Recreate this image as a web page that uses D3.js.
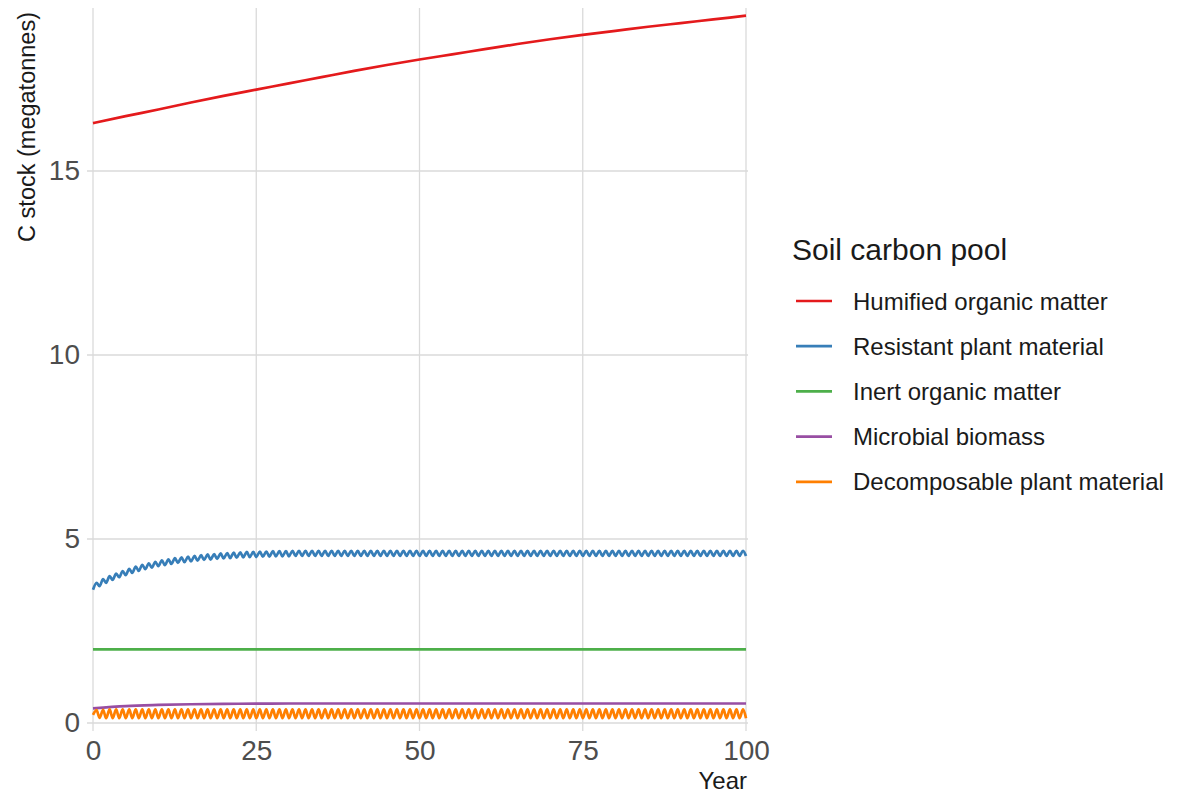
<!DOCTYPE html>
<html>
<head>
<meta charset="utf-8">
<script src="https://cdn.jsdelivr.net/npm/d3@7/dist/d3.min.js"></script>
<style>
  body { margin: 0; background: #fff; }
  svg { display: block; font-family: "Liberation Sans", Arial, sans-serif; }
</style>
</head>
<body>
<svg width="1179" height="793"></svg>
<script>
// pools, in legend order
const pools = ['Humified organic matter', 'Resistant plant material', 'Inert organic matter',
    'Microbial biomass', 'Decomposable plant material'];
const poolColors = ['#E41A1C', '#377EB8', '#4DAF4A', '#984EA3', '#FF7F00'];

const xTicks = [0, 25, 50, 75, 100];
const yTicks = [0, 5, 10, 15];

// smooth pools, read every 5 years
const years5 = [0, 5, 10, 15, 20, 25, 30, 35, 40, 45, 50, 55, 60, 65, 70, 75, 80, 85, 90, 95, 100];
const humified = [16.30, 16.49, 16.67, 16.86, 17.04, 17.21, 17.38, 17.55, 17.72, 17.88, 18.03,
    18.17, 18.31, 18.45, 18.58, 18.70, 18.81, 18.92, 19.02, 19.12, 19.22];
const inert = [2.0, 2.0, 2.0, 2.0, 2.0, 2.0, 2.0, 2.0, 2.0, 2.0, 2.0,
    2.0, 2.0, 2.0, 2.0, 2.0, 2.0, 2.0, 2.0, 2.0, 2.0];
const microbial = [0.40, 0.46, 0.49, 0.51, 0.52, 0.525, 0.53, 0.53, 0.53, 0.53, 0.53,
    0.53, 0.53, 0.53, 0.53, 0.53, 0.53, 0.53, 0.53, 0.53, 0.53];

// oscillating pools: yearly trough (start of year) and peak (mid year)
const peakAt = 0.55;
const resistantLow = [
    3.62, 3.72, 3.81, 3.89, 3.96, 4.02, 4.08, 4.13, 4.18, 4.22,
    4.26, 4.29, 4.32, 4.35, 4.37, 4.39, 4.41, 4.43, 4.44, 4.46,
    4.47, 4.48, 4.49, 4.50, 4.51, 4.51, 4.52, 4.52, 4.53, 4.53,
    4.53, 4.54, 4.54, 4.54, 4.54, 4.54, 4.54, 4.54, 4.54, 4.54,
    4.54, 4.54, 4.54, 4.54, 4.54, 4.54, 4.54, 4.54, 4.54, 4.54,
    4.54, 4.54, 4.54, 4.54, 4.54, 4.54, 4.54, 4.54, 4.54, 4.54,
    4.54, 4.54, 4.54, 4.54, 4.54, 4.54, 4.54, 4.54, 4.54, 4.54,
    4.54, 4.54, 4.54, 4.54, 4.54, 4.54, 4.54, 4.54, 4.54, 4.54,
    4.54, 4.54, 4.54, 4.54, 4.54, 4.54, 4.54, 4.54, 4.54, 4.54,
    4.54, 4.54, 4.54, 4.54, 4.54, 4.54, 4.54, 4.54, 4.54, 4.54,
    4.54];
const resistantHigh = [
    3.81, 3.91, 3.99, 4.06, 4.13, 4.19, 4.25, 4.30, 4.34, 4.38,
    4.42, 4.45, 4.48, 4.50, 4.52, 4.54, 4.56, 4.58, 4.59, 4.61,
    4.62, 4.63, 4.64, 4.65, 4.65, 4.66, 4.66, 4.67, 4.67, 4.67,
    4.68, 4.68, 4.68, 4.68, 4.68, 4.68, 4.68, 4.68, 4.68, 4.68,
    4.68, 4.68, 4.68, 4.68, 4.68, 4.68, 4.68, 4.68, 4.68, 4.68,
    4.68, 4.68, 4.68, 4.68, 4.68, 4.68, 4.68, 4.68, 4.68, 4.68,
    4.68, 4.68, 4.68, 4.68, 4.68, 4.68, 4.68, 4.68, 4.68, 4.68,
    4.68, 4.68, 4.68, 4.68, 4.68, 4.68, 4.68, 4.68, 4.68, 4.68,
    4.68, 4.68, 4.68, 4.68, 4.68, 4.68, 4.68, 4.68, 4.68, 4.68,
    4.68, 4.68, 4.68, 4.68, 4.68, 4.68, 4.68, 4.68, 4.68, 4.68];
const decompLow = [
    0.22, 0.14, 0.13, 0.13, 0.13, 0.13, 0.13, 0.13, 0.13, 0.13,
    0.13, 0.13, 0.13, 0.13, 0.13, 0.13, 0.13, 0.13, 0.13, 0.13,
    0.13, 0.13, 0.13, 0.13, 0.13, 0.13, 0.13, 0.13, 0.13, 0.13,
    0.13, 0.13, 0.13, 0.13, 0.13, 0.13, 0.13, 0.13, 0.13, 0.13,
    0.13, 0.13, 0.13, 0.13, 0.13, 0.13, 0.13, 0.13, 0.13, 0.13,
    0.13, 0.13, 0.13, 0.13, 0.13, 0.13, 0.13, 0.13, 0.13, 0.13,
    0.13, 0.13, 0.13, 0.13, 0.13, 0.13, 0.13, 0.13, 0.13, 0.13,
    0.13, 0.13, 0.13, 0.13, 0.13, 0.13, 0.13, 0.13, 0.13, 0.13,
    0.13, 0.13, 0.13, 0.13, 0.13, 0.13, 0.13, 0.13, 0.13, 0.13,
    0.13, 0.13, 0.13, 0.13, 0.13, 0.13, 0.13, 0.13, 0.13, 0.13,
    0.13];
const decompHigh = [
    0.35, 0.36, 0.37, 0.37, 0.37, 0.37, 0.37, 0.37, 0.37, 0.37,
    0.37, 0.37, 0.37, 0.37, 0.37, 0.37, 0.37, 0.37, 0.37, 0.37,
    0.37, 0.37, 0.37, 0.37, 0.37, 0.37, 0.37, 0.37, 0.37, 0.37,
    0.37, 0.37, 0.37, 0.37, 0.37, 0.37, 0.37, 0.37, 0.37, 0.37,
    0.37, 0.37, 0.37, 0.37, 0.37, 0.37, 0.37, 0.37, 0.37, 0.37,
    0.37, 0.37, 0.37, 0.37, 0.37, 0.37, 0.37, 0.37, 0.37, 0.37,
    0.37, 0.37, 0.37, 0.37, 0.37, 0.37, 0.37, 0.37, 0.37, 0.37,
    0.37, 0.37, 0.37, 0.37, 0.37, 0.37, 0.37, 0.37, 0.37, 0.37,
    0.37, 0.37, 0.37, 0.37, 0.37, 0.37, 0.37, 0.37, 0.37, 0.37,
    0.37, 0.37, 0.37, 0.37, 0.37, 0.37, 0.37, 0.37, 0.37, 0.37];

const svg = d3.select('svg');

const panel = {left: 87, right: 748, top: 8, bottom: 731};

const x = d3.scaleLinear().domain([0, 100]).range([93, 746]);
const y = d3.scaleLinear().domain([0, 15]).range([723, 171]);

const smooth = vals => years5.map((yr, i) => ({x: yr, y: vals[i]}));

const wavy = (lows, highs) => {
    let pts = [];
    lows.forEach((v, i) => {
        pts.push({x: i, y: v});
        if (highs[i] !== undefined) pts.push({x: i + peakAt, y: highs[i]});
    });
    return pts;
};

const series = [
    smooth(humified),
    wavy(resistantLow, resistantHigh),
    smooth(inert),
    smooth(microbial),
    wavy(decompLow, decompHigh)
];

// grid
const grid = svg.append('g').attr('class', 'grid')
    .attr('stroke', '#dadada').attr('stroke-width', 1.3);

grid.selectAll('.gy').data(yTicks).enter().append('line')
    .attr('x1', panel.left).attr('x2', panel.right)
    .attr('y1', d => y(d)).attr('y2', d => y(d));

grid.selectAll('.gx').data(xTicks).enter().append('line')
    .attr('x1', d => x(d)).attr('x2', d => x(d))
    .attr('y1', panel.top).attr('y2', panel.bottom);

// axes (text only, minimal theme)
const xAxis = svg.append('g')
    .attr('transform', 'translate(0,' + (panel.bottom) + ')')
    .call(d3.axisBottom(x).tickValues(xTicks).tickSize(0).tickPadding(9));
const yAxis = svg.append('g')
    .attr('transform', 'translate(' + (panel.left) + ',0)')
    .call(d3.axisLeft(y).tickValues(yTicks).tickSize(0).tickPadding(7));

[xAxis, yAxis].forEach(a => {
    a.select('.domain').remove();
    a.selectAll('text')
        .attr('font-family', '"Liberation Sans", Arial, sans-serif')
        .attr('font-size', 28)
        .attr('fill', '#4d4d4d');
});

const line = d3.line()
    .x(d => x(d.x))
    .y(d => y(d.y))
    .curve(d3.curveMonotoneX);

svg.append('g').selectAll('path')
    .data(series)
    .enter().append('path')
    .attr('d', line)
    .attr('fill', 'none')
    .attr('stroke', (d, i) => poolColors[i])
    .attr('stroke-width', 2.7)
    .attr('stroke-linejoin', 'round');

// axis titles
svg.append('text')
    .attr('x', 747).attr('y', 789)
    .attr('text-anchor', 'end')
    .attr('font-size', 24)
    .attr('fill', '#1a1a1a')
    .text('Year');

svg.append('text')
    .attr('transform', 'translate(35,12) rotate(-90)')
    .attr('text-anchor', 'end')
    .attr('font-size', 23.5)
    .attr('fill', '#1a1a1a')
    .text('C stock (megatonnes)');

// legend
const legend = svg.append('g').attr('transform', 'translate(792,0)');

legend.append('text')
    .attr('x', 0).attr('y', 260)
    .attr('font-size', 30)
    .attr('fill', '#1a1a1a')
    .text('Soil carbon pool');

const item = legend.selectAll('.item').data(pools)
    .enter().append('g')
    .attr('transform', (d, i) => 'translate(0,' + (301 + i * 45.2) + ')');

item.append('line')
    .attr('x1', 4).attr('x2', 40)
    .attr('stroke', (d, i) => poolColors[i])
    .attr('stroke-width', 2.7);

item.append('text')
    .attr('x', 61).attr('y', 8.5)
    .attr('font-size', 24)
    .attr('fill', '#1a1a1a')
    .text(d => d);
</script>
</body>
</html>
